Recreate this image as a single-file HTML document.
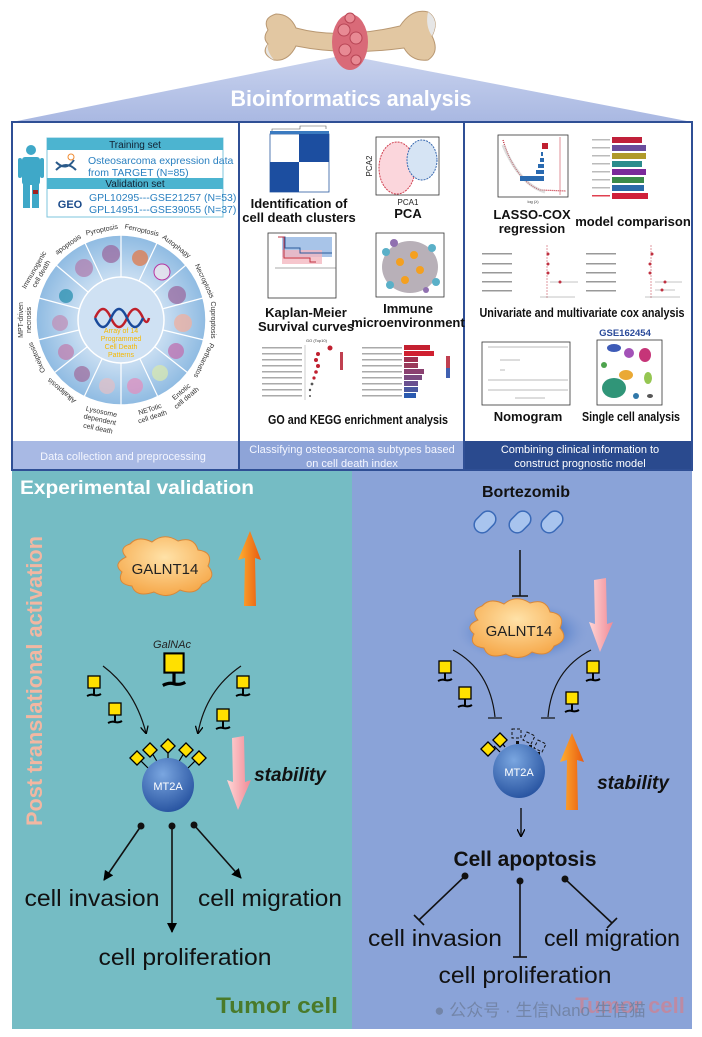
<!DOCTYPE html>
<html><head><meta charset="utf-8"><style>
html,body{margin:0;padding:0;background:#fff;}
svg{display:block;font-family:"Liberation Sans",Arial,sans-serif;}
</style></head><body>
<svg width="702" height="1037" viewBox="0 0 702 1037" xmlns="http://www.w3.org/2000/svg">
<defs>
<linearGradient id="roof" x1="0" y1="0" x2="0" y2="1"><stop offset="0" stop-color="#c9d3ee"/><stop offset="1" stop-color="#a9b8e2"/></linearGradient>
<radialGradient id="mt" cx="0.4" cy="0.3" r="0.8"><stop offset="0" stop-color="#7aa6e0"/><stop offset="1" stop-color="#1f4b9a"/></radialGradient>
<radialGradient id="cl" cx="0.5" cy="0.35" r="0.7"><stop offset="0" stop-color="#ffe2a8"/><stop offset="1" stop-color="#f5a443"/></radialGradient>
<linearGradient id="or" x1="0" y1="0" x2="1" y2="0"><stop offset="0" stop-color="#ffb030"/><stop offset="1" stop-color="#e85a10"/></linearGradient>
<linearGradient id="pk" x1="0" y1="0" x2="1" y2="0"><stop offset="0" stop-color="#ffd6d6"/><stop offset="1" stop-color="#f08a96"/></linearGradient>
<radialGradient id="wh" cx="0.5" cy="0.5" r="0.5"><stop offset="0.5" stop-color="#c9def2"/><stop offset="1" stop-color="#8fbbe2"/></radialGradient>
<radialGradient id="gl" cx="0.5" cy="0.5" r="0.5"><stop offset="0.6" stop-color="#5f86cc"/><stop offset="1" stop-color="#8ba3d8" stop-opacity="0"/></radialGradient>
<g id="sug"><rect x="-6" y="-6" width="12" height="12" fill="#ffe000" stroke="#000" stroke-width="1.3"/><path d="M0 6 V13 M-7 14 Q-3 12 0 13 Q4 14 7 12" stroke="#000" stroke-width="2" fill="none"/></g>
<g id="dia"><rect x="-5" y="-5" width="10" height="10" fill="#ffe000" stroke="#000" stroke-width="1.3" transform="rotate(45)"/></g>
<marker id="ah" markerWidth="8" markerHeight="8" refX="7" refY="4" orient="auto" markerUnits="userSpaceOnUse"><path d="M0 0 L8 4 L0 8" fill="none" stroke="#000" stroke-width="1.3"/></marker>
<marker id="ahf" markerWidth="10" markerHeight="10" refX="9" refY="5" orient="auto" markerUnits="userSpaceOnUse"><path d="M0 0 L10 5 L0 10 Z" fill="#000"/></marker>
</defs>

<!-- roof -->
<polygon points="12,122 345,55 692,122" fill="url(#roof)"/>
<text x="351" y="106" font-size="22" font-weight="bold" fill="#fff" text-anchor="middle" textLength="241" lengthAdjust="spacingAndGlyphs">Bioinformatics analysis</text>
<!-- bone -->
<g>
<path d="M268 30 Q262 18 276 14 Q290 14 296 28 Q340 40 400 26 Q412 8 428 12 Q440 20 432 36 Q440 52 428 60 Q412 62 404 48 Q345 56 296 46 Q288 62 274 60 Q260 54 268 44 Q262 38 268 30 Z" fill="#e2c7a2" stroke="#b99872" stroke-width="1"/>
<path d="M428 12 Q440 20 432 36 Q425 26 428 12Z" fill="#e6e6e6"/>
<path d="M268 44 Q262 54 274 60 Q266 50 268 44Z" fill="#e6e6e6"/>
<ellipse cx="350" cy="42" rx="18" ry="28" fill="#d96a78"/>
<circle cx="344" cy="30" r="6" fill="#e88a94" stroke="#b84656"/><circle cx="356" cy="38" r="6" fill="#e88a94" stroke="#b84656"/><circle cx="345" cy="50" r="6" fill="#e88a94" stroke="#b84656"/><circle cx="356" cy="60" r="5" fill="#e88a94" stroke="#b84656"/><circle cx="350" cy="18" r="5" fill="#e88a94" stroke="#b84656"/>
</g>

<!-- panels -->
<rect x="12" y="122" width="680" height="348" fill="#fff" stroke="#2f4f95" stroke-width="2"/>
<line x1="239" y1="122" x2="239" y2="470" stroke="#2f4f95" stroke-width="2"/>
<line x1="464" y1="122" x2="464" y2="470" stroke="#2f4f95" stroke-width="2"/>
<rect x="13" y="441" width="225" height="28" fill="#a8b9e4"/>
<rect x="240" y="441" width="223" height="28" fill="#8ea4d8"/>
<rect x="465" y="441" width="226" height="28" fill="#2a4a8e"/>
<text x="123" y="460" font-size="11" fill="#f4f6ff" text-anchor="middle">Data collection and preprocessing</text>
<text x="352" y="453" font-size="11" fill="#f4f6ff" text-anchor="middle">Classifying osteosarcoma subtypes based</text>
<text x="352" y="467" font-size="11" fill="#f4f6ff" text-anchor="middle">on cell death index</text>
<text x="580" y="453" font-size="11" fill="#fff" text-anchor="middle">Combining clinical information to</text>
<text x="580" y="467" font-size="11" fill="#fff" text-anchor="middle">construct prognostic model</text>

<!-- left panel: person & table -->
<g fill="#3fa8c8">
<circle cx="31" cy="150" r="5"/>
<rect x="22" y="157" width="18" height="28" rx="3"/>
<rect x="18" y="158" width="4" height="20" rx="2"/><rect x="40" y="158" width="4" height="20" rx="2"/>
<rect x="23" y="184" width="7" height="24"/><rect x="32" y="184" width="7" height="24"/>
</g>
<rect x="33" y="190" width="5" height="4" fill="#a02020"/>
<rect x="47" y="138" width="176" height="79" fill="#fff" stroke="#7cc4dc" stroke-width="1"/>
<rect x="47" y="138" width="176" height="12" fill="#4cb4d0"/>
<text x="135" y="148" font-size="10" fill="#123" text-anchor="middle">Training set</text>
<rect x="47" y="178" width="176" height="11" fill="#4cb4d0"/>
<text x="135" y="187" font-size="10" fill="#123" text-anchor="middle">Validation set</text>
<text x="88" y="164" font-size="10.5" fill="#2a80c0">Osteosarcoma expression data</text>
<text x="88" y="176" font-size="10.5" fill="#2a80c0">from TARGET  (N=85)</text>
<text x="89" y="201" font-size="10.5" fill="#2a80c0">GPL10295---GSE21257  (N=53)</text>
<text x="89" y="213" font-size="10.5" fill="#2a80c0">GPL14951---GSE39055  (N=37)</text>
<path d="M56 162 Q66 172 74 160 M56 170 Q66 160 76 170" stroke="#2a5a8a" stroke-width="2" fill="none"/>
<circle cx="71" cy="157" r="3" fill="none" stroke="#f08a30"/>
<text x="70" y="208" font-size="11" font-weight="bold" fill="#1a4a8a" text-anchor="middle">GEO</text>

<!-- wheel -->
<circle cx="121" cy="320" r="85" fill="url(#wh)" stroke="#fff" stroke-width="1.5"/>
<g stroke="#fff" stroke-width="1.2">
<line x1="121" y1="277" x2="121" y2="235"/>
<line x1="139" y1="281" x2="157" y2="243"/>
<line x1="154" y1="292" x2="186" y2="265"/>
<line x1="162" y1="309" x2="203" y2="298"/>
<line x1="163" y1="330" x2="204" y2="340"/>
<line x1="155" y1="347" x2="188" y2="373"/>
<line x1="140" y1="359" x2="158" y2="397"/>
<line x1="121" y1="363" x2="121" y2="405"/>
<line x1="102" y1="359" x2="84" y2="397"/>
<line x1="87" y1="347" x2="54" y2="373"/>
<line x1="79" y1="330" x2="38" y2="340"/>
<line x1="80" y1="309" x2="39" y2="298"/>
<line x1="88" y1="292" x2="56" y2="265"/>
<line x1="103" y1="281" x2="85" y2="243"/>
</g>
<circle cx="121" cy="320" r="43" fill="#cfe1f3" stroke="#fff" stroke-width="1.5"/>
<g opacity="0.75">
<circle cx="111" cy="254" r="9" fill="#9a6aa0"/><circle cx="140" cy="258" r="8" fill="#e07a4a"/><circle cx="162" cy="272" r="8" fill="#f2e8ee" stroke="#b08"/><circle cx="177" cy="295" r="9" fill="#9a6aa0"/><circle cx="183" cy="323" r="9" fill="#f0b0a0"/><circle cx="176" cy="351" r="8" fill="#c070b0"/><circle cx="160" cy="373" r="8" fill="#d8e8b0"/><circle cx="135" cy="386" r="8" fill="#e090c0"/><circle cx="107" cy="386" r="8" fill="#e0c0c8"/><circle cx="82" cy="374" r="8" fill="#a070a0"/><circle cx="66" cy="352" r="8" fill="#c080b0"/><circle cx="60" cy="323" r="8" fill="#c090b8"/><circle cx="66" cy="296" r="7" fill="#2a90b0"/><circle cx="84" cy="268" r="9" fill="#b080b0"/>
</g>
<path d="M95 318 Q103 300 111 318 Q119 336 127 318 Q135 300 143 318 Q147 326 149 318" stroke="#c0202a" stroke-width="2.5" fill="none"/>
<path d="M95 318 Q103 336 111 318 Q119 300 127 318 Q135 336 143 318" stroke="#1a4a9a" stroke-width="2.5" fill="none"/>
<g font-size="7" fill="#f5b800" text-anchor="middle"><text x="121" y="333">Array of 14</text><text x="121" y="341">Programmed</text><text x="121" y="349">Cell Death</text><text x="121" y="357">Patterns</text></g>
<g font-size="7" fill="#333" text-anchor="middle">
<g transform="translate(121,320) rotate(-12)"><text y="-90">Pyroptosis</text></g>
<g transform="translate(121,320) rotate(13)"><text y="-90">Ferroptosis</text></g>
<g transform="translate(121,320) rotate(37)"><text y="-90">Autophagy</text></g>
<g transform="translate(121,320) rotate(65)"><text y="-90">Necroptosis</text></g>
<g transform="translate(121,320) rotate(90)"><text y="-90">Cuproptosis</text></g>
<g transform="translate(121,320) rotate(116)"><text y="-90">Parthanatos</text></g>
<g transform="translate(121,320) rotate(-40)"><text y="96">Entotic</text><text y="104">cell death</text></g>
<g transform="translate(121,320) rotate(-18)"><text y="96">NETotic</text><text y="104">cell death</text></g>
<g transform="translate(121,320) rotate(12)"><text y="96">Lysosome</text><text y="104">dependent</text><text y="113">cell death</text></g>
<g transform="translate(121,320) rotate(220)"><text y="-90">Alkaliptosis</text></g>
<g transform="translate(121,320) rotate(246)"><text y="-90">Oxeiptosis</text></g>
<g transform="translate(121,320) rotate(-90)"><text y="-98">MPT-driven</text><text y="-90">necrosis</text></g>
<g transform="translate(121,320) rotate(-60)"><text y="-98">Immunogenic</text><text y="-90">cell death</text></g>
<g transform="translate(121,320) rotate(-35)"><text y="-90">apoptosis</text></g>
</g>

<!-- middle panel -->
<rect x="270" y="134" width="59" height="58" fill="#fff" stroke="#2a5aa0" stroke-width="0.8"/>
<rect x="299" y="134" width="30" height="28" fill="#1c4ea0"/><rect x="270" y="162" width="29" height="30" fill="#1c4ea0"/>
<path d="M272 133 V129 H300 V126 H326 V129" stroke="#555" stroke-width="0.6" fill="none"/>
<rect x="270" y="131" width="59" height="3" fill="#3a7ac0"/>
<g font-size="13" font-weight="bold" fill="#111" text-anchor="middle">
<text x="299" y="208">Identification of</text><text x="299" y="222">cell death clusters</text>
<text x="408" y="218">PCA</text>
<text x="306" y="317">Kaplan-Meier</text><text x="306" y="331">Survival curves</text>
<text x="408" y="313">Immune</text><text x="408" y="327">microenvironment</text>
<text x="358" y="424" textLength="180" lengthAdjust="spacingAndGlyphs">GO and KEGG enrichment analysis</text>
<text x="532" y="219">LASSO-COX</text><text x="532" y="233">regression</text>
<text x="633" y="226">model comparison</text>
<text x="582" y="317" textLength="205" lengthAdjust="spacingAndGlyphs">Univariate  and multivariate cox analysis</text>
<text x="528" y="421">Nomogram</text><text x="631" y="421" textLength="98" lengthAdjust="spacingAndGlyphs">Single cell analysis</text>
</g>
<rect x="376" y="137" width="63" height="58" fill="#fff" stroke="#333" stroke-width="0.8"/>
<ellipse cx="397" cy="168" rx="18" ry="26" fill="#fbd6dc" stroke="#d04050" stroke-dasharray="2,1"/>
<ellipse cx="422" cy="160" rx="15" ry="20" fill="#d6e4f4" stroke="#3a6ab0" stroke-dasharray="2,1"/>
<text x="408" y="205" font-size="8" fill="#222" text-anchor="middle">PCA1</text>
<text x="372" y="166" font-size="8" fill="#222" text-anchor="middle" transform="rotate(-90 372 166)">PCA2</text>
<rect x="268" y="233" width="68" height="65" fill="#fff" stroke="#333" stroke-width="0.8"/>
<rect x="282" y="237" width="50" height="20" fill="#a8c4e8"/><rect x="282" y="250" width="40" height="14" fill="#f4b8c0" opacity="0.8"/>
<path d="M278 237 H285 V248 H300 V253 H332" stroke="#2a5a9a" fill="none"/><path d="M278 237 H284 V258 H310 V262 H316" stroke="#c03040" fill="none"/>
<line x1="275" y1="268" x2="336" y2="268" stroke="#555" stroke-width="0.5"/>
<rect x="376" y="233" width="68" height="64" fill="#fff" stroke="#333" stroke-width="0.8"/>
<ellipse cx="410" cy="267" rx="28" ry="26" fill="#b8b0b8"/>
<g fill="#f4a020"><circle cx="400" cy="262" r="4"/><circle cx="414" cy="255" r="4"/><circle cx="420" cy="270" r="4"/><circle cx="405" cy="280" r="4"/></g>
<g fill="#5ab0c8"><circle cx="386" cy="252" r="4"/><circle cx="432" cy="248" r="4"/><circle cx="436" cy="282" r="4"/><circle cx="390" cy="285" r="4"/></g>
<g fill="#9070b0"><circle cx="394" cy="243" r="4"/><circle cx="426" cy="290" r="3"/></g>
<g>
<text x="306" y="342" font-size="4" fill="#333">GO (Top10)</text>
<line x1="305" y1="345" x2="305" y2="400" stroke="#999" stroke-width="0.5"/>
<g fill="#c02030"><circle cx="330" cy="348" r="2.5"/><circle cx="318" cy="354" r="2"/><circle cx="316" cy="360" r="2"/><circle cx="318" cy="366" r="2"/><circle cx="316" cy="372" r="1.8"/><circle cx="314" cy="378" r="1.6"/></g>
<g fill="#555"><circle cx="312" cy="384" r="1.4"/><circle cx="310" cy="390" r="1.2"/><circle cx="310" cy="396" r="1"/></g>
<g fill="#aaa"><rect x="262" y="347" width="40" height="1.5"/><rect x="262" y="353" width="40" height="1.5"/><rect x="262" y="359" width="40" height="1.5"/><rect x="262" y="365" width="40" height="1.5"/><rect x="262" y="371" width="40" height="1.5"/><rect x="262" y="377" width="40" height="1.5"/><rect x="262" y="383" width="40" height="1.5"/><rect x="262" y="389" width="40" height="1.5"/><rect x="262" y="395" width="40" height="1.5"/></g>
<rect x="340" y="352" width="3" height="18" fill="#c04050"/>
<g fill="#aaa"><rect x="362" y="347" width="40" height="1.5"/><rect x="362" y="353" width="40" height="1.5"/><rect x="362" y="359" width="40" height="1.5"/><rect x="362" y="365" width="40" height="1.5"/><rect x="362" y="371" width="40" height="1.5"/><rect x="362" y="377" width="40" height="1.5"/><rect x="362" y="383" width="40" height="1.5"/><rect x="362" y="389" width="40" height="1.5"/><rect x="362" y="395" width="40" height="1.5"/></g>
<rect x="404" y="345" width="26" height="5" fill="#c42030"/><rect x="404" y="351" width="30" height="5" fill="#d02030"/><rect x="404" y="357" width="14" height="5" fill="#a03050"/><rect x="404" y="363" width="14" height="5" fill="#9a3a5a"/><rect x="404" y="369" width="20" height="5" fill="#8a4070"/><rect x="404" y="375" width="18" height="5" fill="#7a4a80"/><rect x="404" y="381" width="14" height="5" fill="#6a5090"/><rect x="404" y="387" width="14" height="5" fill="#4a58a0"/><rect x="404" y="393" width="12" height="5" fill="#2a5ab0"/>
<rect x="446" y="356" width="4" height="20" fill="#c04050"/><rect x="446" y="368" width="4" height="10" fill="#4060b0"/>
</g>

<!-- right panel -->
<rect x="498" y="135" width="70" height="62" fill="#fff" stroke="#333" stroke-width="0.8"/>
<path d="M503 140 Q515 180 540 190 L566 191" stroke="#c02030" stroke-width="1.2" fill="none" stroke-dasharray="1,1"/>
<path d="M503 145 Q520 185 545 192" stroke="#bbb" stroke-width="3" fill="none" opacity="0.5"/>
<rect x="542" y="143" width="6" height="6" fill="#c02030"/><g fill="#2a6ab0"><rect x="541" y="152" width="2" height="4"/><rect x="540" y="158" width="4" height="4"/><rect x="538" y="164" width="6" height="4"/><rect x="536" y="170" width="8" height="4"/><rect x="520" y="176" width="24" height="5"/></g>
<line x1="560" y1="137" x2="560" y2="195" stroke="#c02030" stroke-width="0.5"/>
<text x="533" y="203" font-size="4" fill="#333" text-anchor="middle">log (λ)</text>
<g>
<rect x="590" y="135" width="70" height="65" fill="#fff"/>
<rect x="612" y="137" width="30" height="6" fill="#c0203a"/><rect x="612" y="145" width="34" height="6" fill="#6a4c9c"/><rect x="612" y="153" width="34" height="6" fill="#b09a2a"/><rect x="612" y="161" width="30" height="6" fill="#2a8c8c"/><rect x="612" y="169" width="34" height="6" fill="#7a2a9a"/><rect x="612" y="177" width="32" height="6" fill="#3a8a4a"/><rect x="612" y="185" width="32" height="6" fill="#2a6aa8"/><rect x="612" y="193" width="36" height="6" fill="#d0203a"/>
<g fill="#bbb"><rect x="592" y="139" width="18" height="1.5"/><rect x="592" y="147" width="18" height="1.5"/><rect x="592" y="155" width="18" height="1.5"/><rect x="592" y="163" width="18" height="1.5"/><rect x="592" y="171" width="18" height="1.5"/><rect x="592" y="179" width="18" height="1.5"/><rect x="592" y="187" width="18" height="1.5"/><rect x="592" y="195" width="18" height="1.5" fill="#e04050"/></g>
</g>
<g stroke="#888" stroke-width="0.5" fill="#999">
<rect x="482" y="253" width="30" height="1.5" stroke="none"/><rect x="482" y="263" width="30" height="1.5" stroke="none"/><rect x="482" y="272" width="30" height="1.5" stroke="none"/><rect x="482" y="281" width="30" height="1.5" stroke="none"/><rect x="482" y="290" width="30" height="1.5" stroke="none"/>
<rect x="586" y="253" width="30" height="1.5" stroke="none"/><rect x="586" y="263" width="30" height="1.5" stroke="none"/><rect x="586" y="272" width="30" height="1.5" stroke="none"/><rect x="586" y="281" width="30" height="1.5" stroke="none"/><rect x="586" y="290" width="30" height="1.5" stroke="none"/>
<line x1="547" y1="245" x2="547" y2="298" stroke-dasharray="2,1" stroke="#c03040"/>
<line x1="651" y1="245" x2="651" y2="298" stroke-dasharray="2,1" stroke="#c03040"/>
<line x1="550" y1="282" x2="578" y2="282"/><line x1="655" y1="282" x2="682" y2="282"/><line x1="655" y1="290" x2="675" y2="290"/>
<line x1="540" y1="297" x2="575" y2="297"/><line x1="645" y1="297" x2="680" y2="297"/>
</g>
<g fill="#c03040"><circle cx="548" cy="254" r="1.5"/><circle cx="548" cy="264" r="1.5"/><circle cx="548" cy="273" r="1.5"/><circle cx="560" cy="282" r="1.5"/><circle cx="652" cy="254" r="1.5"/><circle cx="650" cy="264" r="1.5"/><circle cx="650" cy="273" r="1.5"/><circle cx="665" cy="282" r="1.5"/><circle cx="662" cy="290" r="1.5"/></g>
<text x="625" y="336" font-size="9.5" font-weight="bold" fill="#2a4a9a" text-anchor="middle">GSE162454</text>
<rect x="482" y="342" width="88" height="63" fill="#fff" stroke="#333" stroke-width="0.8"/>
<g stroke="#777" stroke-width="0.5"><line x1="488" y1="347" x2="568" y2="347"/><line x1="500" y1="360" x2="520" y2="360"/><line x1="500" y1="370" x2="505" y2="370"/><line x1="488" y1="380" x2="568" y2="380"/><line x1="488" y1="390" x2="568" y2="390"/><line x1="515" y1="398" x2="545" y2="398"/></g>
<rect x="597" y="340" width="65" height="65" fill="#fff" stroke="#333" stroke-width="0.8"/>
<g opacity="0.9">
<ellipse cx="614" cy="388" rx="12" ry="10" fill="#1a8a6a"/><ellipse cx="626" cy="375" rx="7" ry="5" fill="#e8a020"/><ellipse cx="645" cy="355" rx="6" ry="7" fill="#c0206a"/><ellipse cx="629" cy="353" rx="5" ry="5" fill="#9a40b0"/><ellipse cx="614" cy="348" rx="7" ry="4" fill="#2a4ab0"/><ellipse cx="648" cy="378" rx="4" ry="6" fill="#8ac040"/><ellipse cx="636" cy="396" rx="3" ry="3" fill="#1a6aa0"/><ellipse cx="604" cy="365" rx="3" ry="3" fill="#3a9a3a"/><ellipse cx="650" cy="396" rx="3" ry="2" fill="#444"/>
</g>

<!-- bottom panels -->
<rect x="12" y="471" width="340" height="558" fill="#75bcc4"/>
<rect x="352" y="471" width="340" height="558" fill="#8aa3d8"/>
<text x="20" y="494" font-size="19" font-weight="bold" fill="#fff" textLength="234" lengthAdjust="spacingAndGlyphs">Experimental validation</text>
<text x="42" y="681" font-size="22" font-weight="bold" fill="#f2b7a2" text-anchor="middle" transform="rotate(-90 42 681)" textLength="290" lengthAdjust="spacingAndGlyphs">Post translational activation</text>

<!-- left content -->
<g>
<path d="M126 557 Q118 548 130 544 Q138 535 152 542 Q164 532 178 541 Q194 536 198 550 Q214 552 208 566 Q218 578 202 584 Q196 596 180 590 Q168 600 154 592 Q136 598 132 586 Q116 584 122 572 Q112 564 126 557 Z" fill="url(#cl)" stroke="#d8883a" stroke-width="1"/>
<text x="165" y="574" font-size="15" fill="#222" text-anchor="middle">GALNT14</text>
<polygon points="250,531 238,560 245,558 244,606 256,606 255,558 261,560" fill="url(#or)"/>
<text x="172" y="648" font-size="11" font-style="italic" fill="#222" text-anchor="middle">GalNAc</text>
<use href="#sug" transform="translate(174 663) scale(1.6)"/>
<use href="#sug" x="94" y="682"/><use href="#sug" x="115" y="709"/><use href="#sug" x="243" y="682"/><use href="#sug" x="223" y="715"/>
<path d="M103 666 Q135 690 146 733" stroke="#111" stroke-width="1.2" fill="none" marker-end="url(#ah)"/>
<path d="M241 666 Q206 690 198 733" stroke="#111" stroke-width="1.2" fill="none" marker-end="url(#ah)"/>
<g stroke="#000" stroke-width="1.2"><line x1="150" y1="770" x2="140" y2="760"/><line x1="158" y1="763" x2="152" y2="753"/><line x1="168" y1="760" x2="168" y2="750"/><line x1="178" y1="763" x2="184" y2="753"/><line x1="186" y1="770" x2="196" y2="760"/></g>
<use href="#dia" x="137" y="758"/><use href="#dia" x="150" y="750"/><use href="#dia" x="168" y="746"/><use href="#dia" x="186" y="750"/><use href="#dia" x="199" y="758"/>
<ellipse cx="168" cy="785" rx="26" ry="27" fill="url(#mt)"/>
<text x="168" y="790" font-size="11" fill="#fff" text-anchor="middle">MT2A</text>
<polygon points="238,810 227,780 233,782 232,738 244,736 245,782 251,780" fill="url(#pk)"/>
<text x="290" y="781" font-size="19" font-weight="bold" font-style="italic" fill="#111" text-anchor="middle">stability</text>
<g stroke="#111" stroke-width="1.6" fill="#111">
<circle cx="141" cy="826" r="3.5" stroke="none"/><circle cx="172" cy="826" r="3.5" stroke="none"/><circle cx="194" cy="825" r="3.5" stroke="none"/>
<line x1="141" y1="826" x2="104" y2="880" marker-end="url(#ahf)"/>
<line x1="172" y1="826" x2="172" y2="932" marker-end="url(#ahf)"/>
<line x1="194" y1="825" x2="241" y2="878" marker-end="url(#ahf)"/>
</g>
<g font-size="23" fill="#111" text-anchor="middle">
<text x="92" y="906" textLength="135" lengthAdjust="spacingAndGlyphs">cell invasion</text>
<text x="270" y="906" textLength="144" lengthAdjust="spacingAndGlyphs">cell migration</text>
<text x="185" y="965" textLength="173" lengthAdjust="spacingAndGlyphs">cell proliferation</text>
</g>
<text x="277" y="1013" font-size="22" font-weight="bold" fill="#4a7a2a" text-anchor="middle" textLength="122" lengthAdjust="spacingAndGlyphs">Tumor cell</text>
</g>

<!-- right content -->
<g>
<text x="526" y="497" font-size="16" font-weight="bold" fill="#111" text-anchor="middle">Bortezomib</text>
<g fill="#a8c4ee" stroke="#3a6ab8" stroke-width="1.5">
<rect x="473" y="514" width="24" height="16" rx="8" transform="rotate(-45 485 522)"/>
<rect x="508" y="514" width="24" height="16" rx="8" transform="rotate(-45 520 522)"/>
<rect x="540" y="514" width="24" height="16" rx="8" transform="rotate(-45 552 522)"/>
</g>
<line x1="520" y1="550" x2="520" y2="596" stroke="#111" stroke-width="1.5"/><line x1="512" y1="596" x2="528" y2="596" stroke="#111" stroke-width="1.5"/>
<ellipse cx="522" cy="632" rx="68" ry="32" fill="url(#gl)"/>
<path d="M478 620 Q470 610 482 606 Q490 597 504 604 Q516 594 530 603 Q546 598 550 612 Q566 614 560 628 Q570 640 554 646 Q548 658 532 652 Q520 662 506 654 Q488 660 484 648 Q468 646 474 634 Q464 626 478 620 Z" fill="url(#cl)" stroke="#d8883a" stroke-width="1"/>
<text x="519" y="636" font-size="15" fill="#222" text-anchor="middle">GALNT14</text>
<polygon points="600,652 589,622 595,624 594,580 606,578 607,624 613,622" fill="url(#pk)"/>
<use href="#sug" x="445" y="667"/><use href="#sug" x="465" y="693"/><use href="#sug" x="593" y="667"/><use href="#sug" x="572" y="698"/>
<path d="M453 650 Q490 670 495 717" stroke="#111" stroke-width="1.2" fill="none"/><line x1="488" y1="718" x2="502" y2="718" stroke="#111" stroke-width="1.2"/>
<path d="M591 650 Q552 670 548 717" stroke="#111" stroke-width="1.2" fill="none"/><line x1="541" y1="718" x2="555" y2="718" stroke="#111" stroke-width="1.2"/>
<g stroke="#000" stroke-width="1.2"><line x1="500" y1="752" x2="494" y2="746"/><line x1="505" y1="747" x2="500" y2="740"/></g>
<use href="#dia" x="488" y="749"/><use href="#dia" x="500" y="740"/>
<g stroke="#111" stroke-width="1" fill="none" stroke-dasharray="3,2"><rect x="512" y="729" width="9" height="9"/><path d="M527 732 l8 4 -4 8 -8 -4z"/><path d="M538 740 l8 4 -4 8 -8 -4z"/></g>
<g fill="#111"><rect x="516" y="741" width="3" height="3"/><rect x="529" y="745" width="3" height="3"/><rect x="537" y="752" width="3" height="3"/></g>
<ellipse cx="519" cy="771" rx="26" ry="27" fill="url(#mt)"/>
<text x="519" y="776" font-size="11" fill="#fff" text-anchor="middle">MT2A</text>
<polygon points="572,733 560,762 567,760 566,810 578,810 577,760 584,762" fill="url(#or)"/>
<text x="633" y="789" font-size="19" font-weight="bold" font-style="italic" fill="#111" text-anchor="middle">stability</text>
<line x1="521" y1="808" x2="521" y2="836" stroke="#111" stroke-width="1.4" marker-end="url(#ah)"/>
<text x="525" y="866" font-size="21" font-weight="bold" fill="#111" text-anchor="middle" textLength="143" lengthAdjust="spacingAndGlyphs">Cell apoptosis</text>
<g stroke="#111" stroke-width="1.6" fill="#111">
<circle cx="465" cy="876" r="3.5" stroke="none"/><circle cx="520" cy="881" r="3.5" stroke="none"/><circle cx="565" cy="879" r="3.5" stroke="none"/>
<line x1="465" y1="876" x2="419" y2="920"/><line x1="414" y1="915" x2="424" y2="925"/>
<line x1="520" y1="881" x2="520" y2="957"/><line x1="513" y1="957" x2="527" y2="957"/>
<line x1="565" y1="879" x2="612" y2="923"/><line x1="607" y1="928" x2="617" y2="918"/>
</g>
<g font-size="23" fill="#111" text-anchor="middle">
<text x="435" y="946" textLength="134" lengthAdjust="spacingAndGlyphs">cell invasion</text>
<text x="612" y="946" textLength="136" lengthAdjust="spacingAndGlyphs">cell migration</text>
<text x="525" y="983" textLength="173" lengthAdjust="spacingAndGlyphs">cell proliferation</text>
</g>
<text x="630" y="1013" font-size="22" font-weight="bold" fill="#e07a80" text-anchor="middle" opacity="0.6">Tumor cell</text>
<text x="540" y="1016" font-size="17" fill="#7080a0" text-anchor="middle" opacity="0.85" font-family="'Liberation Sans','Noto Sans CJK SC',sans-serif">● 公众号 · 生信Nano 生信猫</text>
</g>
</svg>
</body></html>
